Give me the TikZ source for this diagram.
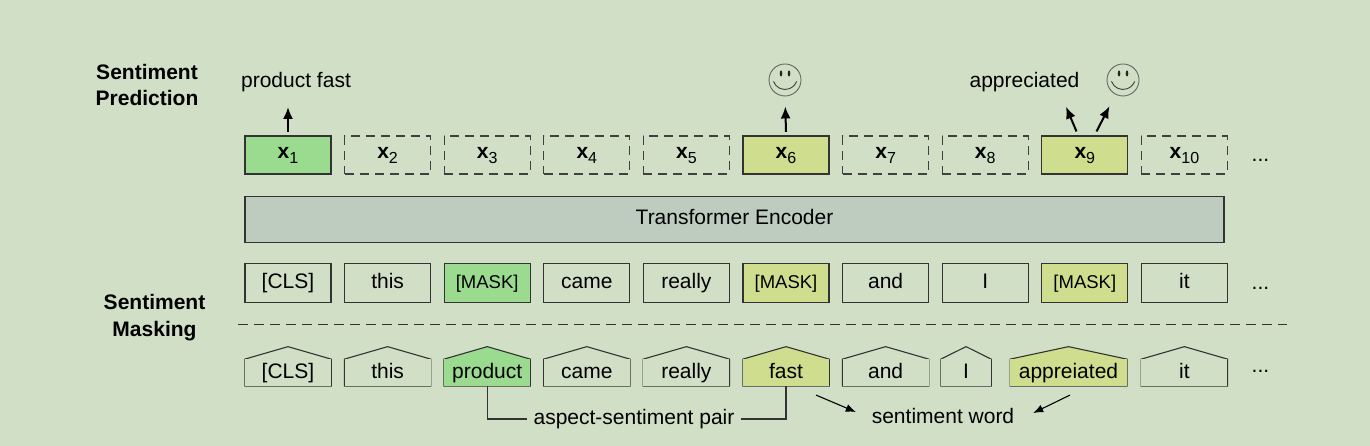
\documentclass[tikz,border=0pt]{standalone}
\usepackage{fontspec}
\setmainfont{Liberation Sans}
\usetikzlibrary{positioning,arrows.meta}

\definecolor{bgcol}{RGB}{208,223,197}
\definecolor{aspectgreen}{RGB}{154,219,143}
\definecolor{sentilime}{RGB}{206,222,142}
\definecolor{encgray}{RGB}{190,204,192}

\newcommand\xvec[1]{\textbf{x}\raisebox{-5pt}{\fontsize{16}{18}\selectfont #1}}

\tikzset{
	boxline/.style={draw=black!80, line width=1.1pt},
	xbox/.style={boxline, fill=#1, minimum width=86pt, minimum height=38pt, inner sep=0pt,
		text height=12pt, text depth=5pt},
	xhid/.style={draw=black!75, line width=1.1pt, dash pattern=on 9pt off 6pt,
		minimum width=86pt, minimum height=38pt, inner sep=0pt, text height=12pt, text depth=5pt},
	tok/.style={boxline, fill=#1, minimum width=86pt, minimum height=39pt, inner sep=0pt,
		text height=15pt, text depth=4pt},
	tok/.default=bgcol,
	house/.style={minimum width=86pt, minimum height=26.5pt, inner sep=0pt, fill=#1,
		text height=15pt, text depth=4pt,
		append after command={\pgfextra{
			\fill[#1] ([yshift=-1pt]\tikzlastnode.north west) -- (\tikzlastnode.north west)
				-- ([yshift=12.5pt]\tikzlastnode.north) -- (\tikzlastnode.north east)
				-- ([yshift=-1pt]\tikzlastnode.north east) -- cycle;
			\draw[boxline, line join=miter] (\tikzlastnode.north east) -- (\tikzlastnode.south east)
				-- (\tikzlastnode.south west) -- (\tikzlastnode.north west)
				-- ([yshift=12.5pt]\tikzlastnode.north) -- cycle;}}},
	house/.default=bgcol,
	masktext/.style={font=\fontsize{18.5}{22}\selectfont},
	lbl/.style={inner sep=0pt},
	side/.style={lbl, align=center, font=\bfseries\fontsize{21}{26.5}\selectfont},
	smiley/.style={circle, draw=black!60, line width=0.9pt, minimum size=32pt, inner sep=0pt,
		path picture={
			\fill[black!85] ([shift={(-4pt,6.5pt)}]path picture bounding box.center)
				ellipse [x radius=1.3pt, y radius=3pt];
			\fill[black!85] ([shift={(4pt,6.5pt)}]path picture bounding box.center)
				ellipse [x radius=1.3pt, y radius=3pt];
			\draw[black!75, line width=0.9pt] ([shift={(-11.56pt,-1.4pt)}]path picture bounding box.center)
				arc [start angle=200, end angle=340, radius=12.3pt];}},
	up/.style={-{Latex[length=12pt,width=10pt]}, line width=2pt},
	thinup/.style={-{Latex[length=10pt,width=8pt]}, line width=1.1pt},
}

\begin{document}
\begin{tikzpicture}[x=1pt, y=1pt, node distance=99.6pt, on grid, font=\fontsize{21}{25}\selectfont]
	\fill[bgcol] (0,0) rectangle (1370,446);
	\useasboundingbox (0,0) rectangle (1370,446);

	% encoder outputs
	\node[xbox=aspectgreen] (x1) at (288,291) {\xvec{1}};
	\node[xhid, right of=x1] (x2) {\xvec{2}};
	\node[xhid, right of=x2] (x3) {\xvec{3}};
	\node[xhid, right of=x3] (x4) {\xvec{4}};
	\node[xhid, right of=x4] (x5) {\xvec{5}};
	\node[xbox=sentilime, right of=x5] (x6) {\xvec{6}};
	\node[xhid, right of=x6] (x7) {\xvec{7}};
	\node[xhid, right of=x7] (x8) {\xvec{8}};
	\node[xbox=sentilime, right of=x8] (x9) {\xvec{9}};
	\node[xhid, right of=x9] (x10) {\xvec{10}};
	\node[lbl, right of=x10, node distance=76pt, yshift=-5.7pt] (xdots) {...};

	\node[tok=encgray, minimum width=979pt, minimum height=45.5pt] (enc) at (734.5,226.5) {Transformer Encoder};

	% masked input
	\node[tok, below of=x1, node distance=128pt] (t1) {[CLS]};
	\node[tok, right of=t1] (t2) {this};
	\node[tok=aspectgreen, masktext, right of=t2] (t3) {[MASK]};
	\node[tok, right of=t3] (t4) {came};
	\node[tok, right of=t4] (t5) {really};
	\node[tok=sentilime, masktext, right of=t5] (t6) {[MASK]};
	\node[tok, right of=t6] (t7) {and};
	\node[tok, right of=t7] (t8) {I};
	\node[tok=sentilime, masktext, right of=t8] (t9) {[MASK]};
	\node[tok, right of=t9] (t10) {it};
	\node[lbl, right of=t10, node distance=76pt, yshift=-5.7pt] (tdots) {...};

	\coordinate (sl) at (238,121.5);
	\coordinate (sr) at (1287,121.5);
	\draw[boxline, dash pattern=on 10pt off 6pt] (sl) -- (sr);

	% original sentence
	\node[house, below of=t1, node distance=89.6pt] (o1) {[CLS]};
	\node[house, below of=t2, node distance=89.6pt] (o2) {this};
	\node[house=aspectgreen, below of=t3, node distance=89.6pt] (o3) {product};
	\node[house, below of=t4, node distance=89.6pt] (o4) {came};
	\node[house, below of=t5, node distance=89.6pt] (o5) {really};
	\node[house=sentilime, below of=t6, node distance=89.6pt] (o6) {fast};
	\node[house, below of=t7, node distance=89.6pt] (o7) {and};
	\node[house, minimum width=50pt, below of=t8, node distance=89.6pt, xshift=-19.2pt] (o8) {I};
	\node[house=sentilime, minimum width=116.5pt, below of=t9, node distance=89.6pt, xshift=-16.3pt] (o9) {appreiated};
	\node[house, below of=t10, node distance=89.6pt] (o10) {it};
	\node[lbl, right of=o10, node distance=76pt, yshift=1.6pt] (odots) {...};

	% labels
	\node[side] (sp) at (147,361) {Sentiment\\Prediction};
	\node[side] (sm) at (154.5,128.5) {Sentiment\\Masking};
	\node[lbl] (pf) at (296,364) {product fast};
	\node[lbl] (ap) at (1024.5,364) {appreciated};
	\node[smiley] (s6) at (785,366) {};
	\node[smiley] (s9) at (1123,366) {};
	\node[lbl, inner sep=6pt] (asp) at (634,27) {aspect-sentiment pair};
	\node[lbl] (sw) at (943,30) {sentiment word};

	\coordinate (a9) at (1066,339.3);
	\draw[up, shorten >=15pt] ([yshift=3.5pt]x1.north) -- (x1.north |- pf.south);
	\draw[up, shorten >=10pt] ([yshift=3.5pt]x6.north) -- (s6.south);
	\draw[up] ([xshift=-8.3pt,yshift=4pt]x9.north) -- (a9);
	\draw[up, shorten >=13pt] ([xshift=11.7pt,yshift=4pt]x9.north) -- (s9);

	\draw[boxline] (o3) |- (asp);
	\draw[boxline] (o6) |- (asp);
	\draw[thinup] ([xshift=30pt,yshift=-9pt]o6.south) -- ([xshift=-15.8pt,yshift=4pt]sw.west);
	\draw[thinup] ([xshift=1.5pt,yshift=-9pt]o9.south) -- ([xshift=18.8pt,yshift=3pt]sw.east);
\end{tikzpicture}
\end{document}
